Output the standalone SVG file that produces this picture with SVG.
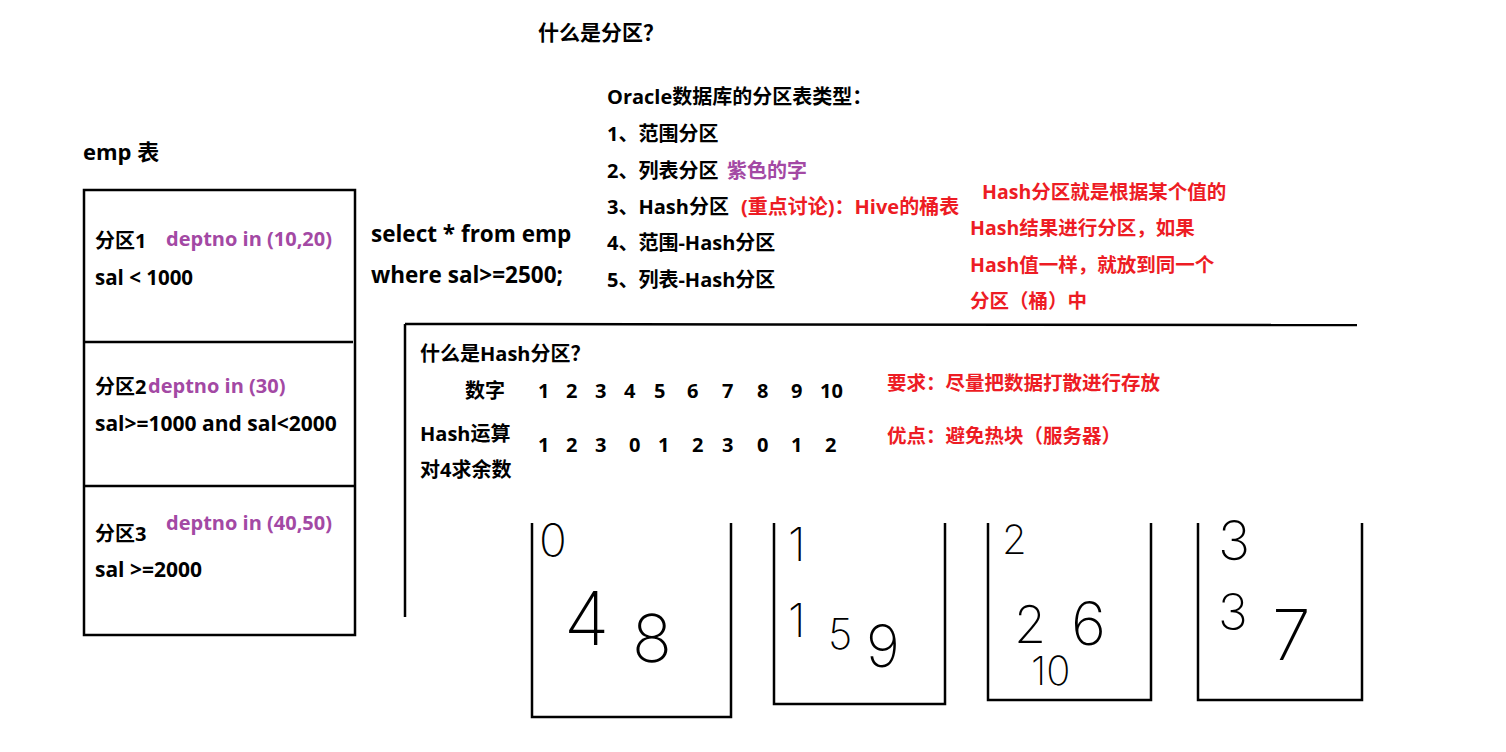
<svg xmlns="http://www.w3.org/2000/svg" width="1506" height="752" viewBox="0 0 1506 752">
<style>
text{font-family:"Open Sans","Noto Sans CJK SC",sans-serif;font-weight:bold;font-size:20px;fill:#000}
.p{fill:#a349a4}
.r{fill:#ed1c24;font-size:19.5px}
.ln{stroke:#000;stroke-width:2.5;fill:none}
.hw{font-family:"Inter","Lato","DejaVu Sans",sans-serif;font-weight:200;fill:#000}
</style>
<rect width="1506" height="752" fill="#fff"/>
<g id="title"><text x="538" y="40" style="font-size:21px">什么是分区？</text></g>
<g id="emp-table">
<text x="83" y="160" style="font-size:22px">emp 表</text>
<rect class="ln" x="84" y="190" width="271" height="445"/>
<line class="ln" x1="84" y1="342" x2="353" y2="342"/>
<line class="ln" x1="84" y1="486" x2="355" y2="486"/>
<text x="95" y="248">分区1</text><text class="p" x="166" y="246">deptno in (10,20)</text>
<text x="95" y="285" style="font-size:20.5px">sal &lt; 1000</text>
<text x="95" y="394">分区2</text><text class="p" x="148" y="393">deptno in (30)</text>
<text x="95" y="431" style="font-size:21px">sal&gt;=1000 and sal&lt;2000</text>
<text x="95" y="541">分区3</text><text class="p" x="166" y="530">deptno in (40,50)</text>
<text x="95" y="577" style="font-size:21px">sal &gt;=2000</text>
</g>
<g id="query">
<text x="371" y="242" style="font-size:22.5px">select * from emp</text>
<text x="371" y="283" style="font-size:22.5px">where sal&gt;=2500;</text>
</g>
<g id="oracle-types">
<text x="607" y="104">Oracle数据库的分区表类型：</text>
<text x="607" y="141">1、范围分区</text>
<text x="607" y="178">2、列表分区<tspan class="p" x="727">紫色的字</tspan></text>
<text x="607" y="214">3、Hash分区<tspan class="r" x="741" style="font-size:20px">(重点讨论)：Hive的桶表</tspan></text>
<text x="607" y="250">4、范围-Hash分区</text>
<text x="607" y="287">5、列表-Hash分区</text>
</g>
<g id="hash-note">
<text class="r" x="982" y="199">Hash分区就是根据某个值的</text>
<text class="r" x="970" y="235">Hash结果进行分区，如果</text>
<text class="r" x="970" y="272">Hash值一样，就放到同一个</text>
<text class="r" x="970" y="308">分区（桶）中</text>
</g>
<g id="connectors">
<line class="ln" x1="405" y1="324" x2="1357" y2="325"/>
<line class="ln" x1="405" y1="324" x2="405" y2="617"/>
</g>
<g id="hash-section">
<text x="420" y="361">什么是Hash分区？</text>
<text x="465" y="398">数字</text>
<text x="538" y="398">1</text><text x="566" y="398">2</text><text x="595" y="398">3</text><text x="624" y="398">4</text><text x="654" y="398">5</text><text x="687" y="398">6</text><text x="722" y="398">7</text><text x="757" y="398">8</text><text x="791" y="398">9</text><text x="820" y="398">10</text>
<text x="420" y="441">Hash运算</text>
<text x="420" y="477">对4求余数</text>
<text x="538" y="452">1</text><text x="566" y="452">2</text><text x="595" y="452">3</text><text x="629" y="452">0</text><text x="658" y="452">1</text><text x="692" y="452">2</text><text x="722" y="452">3</text><text x="757" y="452">0</text><text x="791" y="452">1</text><text x="825" y="452">2</text>
<text class="r" x="887" y="390">要求：尽量把数据打散进行存放</text>
<text class="r" x="887" y="443">优点：避免热块（服务器）</text>
</g>
<g id="bucket-0">
<polyline class="ln" points="532,523 532,717 731,717 731,523"/>
<text class="hw" x="539" y="557" style="font-size:46px">0</text>
<text class="hw" x="564" y="645" style="font-size:74px">4</text>
<text class="hw" x="632" y="662" style="font-size:66px">8</text>
</g>
<g id="bucket-1">
<polyline class="ln" points="774,523 774,704 945,704 945,523"/>
<text class="hw" x="788" y="561" style="font-size:46px">1</text>
<text class="hw" x="788" y="637" style="font-size:46px">1</text>
<text class="hw" x="828" y="649" style="font-size:42px">5</text>
<text class="hw" x="866" y="667" style="font-size:58px">9</text>
</g>
<g id="bucket-2">
<polyline class="ln" points="988,523 988,700 1151,700 1151,523"/>
<text class="hw" x="1002" y="554" style="font-size:40px">2</text>
<text class="hw" x="1014" y="643" style="font-size:52px">2</text>
<text class="hw" x="1071" y="645" style="font-size:60px">6</text>
<text class="hw" x="1031" y="685" style="font-size:40px">10</text>
</g>
<g id="bucket-3">
<polyline class="ln" points="1198,523 1198,700 1362,700 1362,523"/>
<text class="hw" x="1218" y="560" style="font-size:54px">3</text>
<text class="hw" x="1218" y="630" style="font-size:50px">3</text>
<text class="hw" x="1272" y="660" style="font-size:70px">7</text>
</g>
</svg>
